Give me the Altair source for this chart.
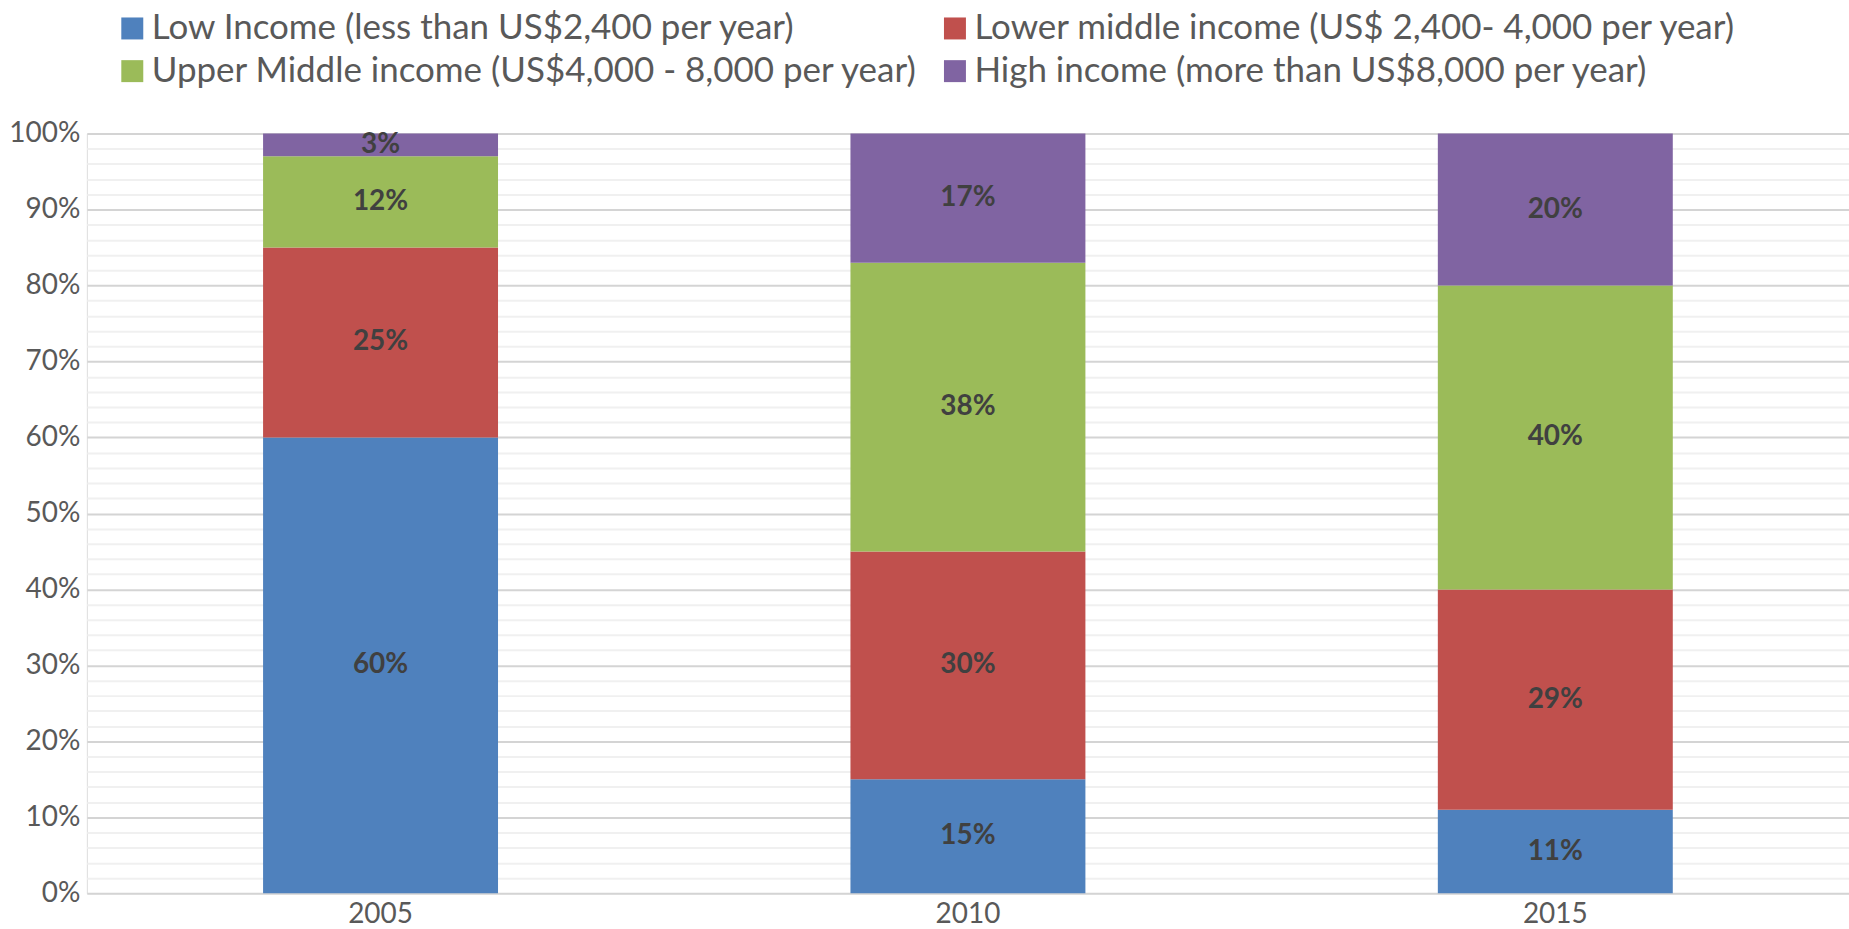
import altair as alt
import pandas as pd

years = ["2005", "2010", "2015"]
categories = [
    "Low Income (less than US$2,400 per year)",
    "Lower middle income (US$ 2,400- 4,000 per year)",
    "Upper Middle income (US$4,000 - 8,000 per year)",
    "High income (more than US$8,000 per year)",
]
colors = ["#4F81BD", "#C0504D", "#9BBB59", "#8064A2"]
low = [60, 15, 11]
lower_mid = [25, 30, 29]
upper_mid = [12, 38, 40]
high = [3, 17, 20]
y_ticks = list(range(0, 101, 2))

rows = []
for i, y in enumerate(years):
    for r, (cat, vals) in enumerate(zip(categories, [low, lower_mid, upper_mid, high])):
        rows.append({"year": y, "cat": cat, "rank": r, "value": vals[i]})
df = pd.DataFrame(rows)

# legend is laid out column-major: col 1 = Low, Upper; col 2 = Lower, High
legend_order = [categories[0], categories[2], categories[1], categories[3]]
legend_colors = [colors[0], colors[2], colors[1], colors[3]]

FONT = "Lato"

base = alt.Chart(df).transform_stack(
    stack="value", groupby=["year"], as_=["v0", "v1"], sort=[alt.SortField("rank")]
).transform_calculate(mid="(datum.v0 + datum.v1) / 2", lbl="datum.value + '%'")

x_axis = alt.Axis(labelAngle=0, ticks=False, domain=False, labelFont=FONT,
                  labelFontSize=28, labelColor="#595959", labelPadding=7)
x_scale = alt.Scale(paddingInner=0.6, paddingOuter=0.3)
y_axis = alt.Axis(
    values=y_ticks,
    labelExpr="datum.value % 10 === 0 ? datum.value + '%' : ''",
    labelOverlap=False,
    ticks=False, domain=False, labelFont=FONT, labelFontSize=28,
    labelColor="#595959", labelPadding=7,
    gridColor={"condition": {"test": "datum.value % 10 === 0", "value": "#d4d4d4"}, "value": "#f0f0f0"},
    gridWidth=2,
)
y_scale = alt.Scale(domain=[0, 100], nice=False)

bars = base.mark_bar().encode(
    x=alt.X("year:N", title=None, sort=years, scale=x_scale, axis=x_axis),
    y=alt.Y("v0:Q", title=None, scale=y_scale, axis=y_axis),
    y2="v1:Q",
    color=alt.Color(
        "cat:N",
        scale=alt.Scale(domain=legend_order, range=legend_colors),
        legend=alt.Legend(
            title=None, orient="none", legendX=28, legendY=-123, columns=2,
            columnPadding=19, rowPadding=7, symbolType="square", symbolSize=484,
            symbolStrokeWidth=0, labelFont=FONT, labelFontSize=35, labelColor="#595959",
            labelLimit=1000, symbolOffset=0, labelOffset=2, padding=0,
        ),
    ),
    order=alt.Order("rank:Q"),
)

labels = base.mark_text(font=FONT, fontSize=28, fontWeight="bold", color="#404040").encode(
    x=alt.X("year:N", title=None, sort=years, scale=x_scale, axis=x_axis),
    y=alt.Y("mid:Q", title=None, scale=y_scale, axis=y_axis),
    text="lbl:N",
)

chart = alt.layer(bars, labels).properties(
    width=1765, height=761,
    autosize=alt.AutoSizeParams(type="none"),
    padding={"left": 87, "top": 133, "right": 0, "bottom": 35},
).configure_view(stroke=None).configure(background="white")

chart.save("out.html", embed_options={"renderer": "svg", "actions": False})
